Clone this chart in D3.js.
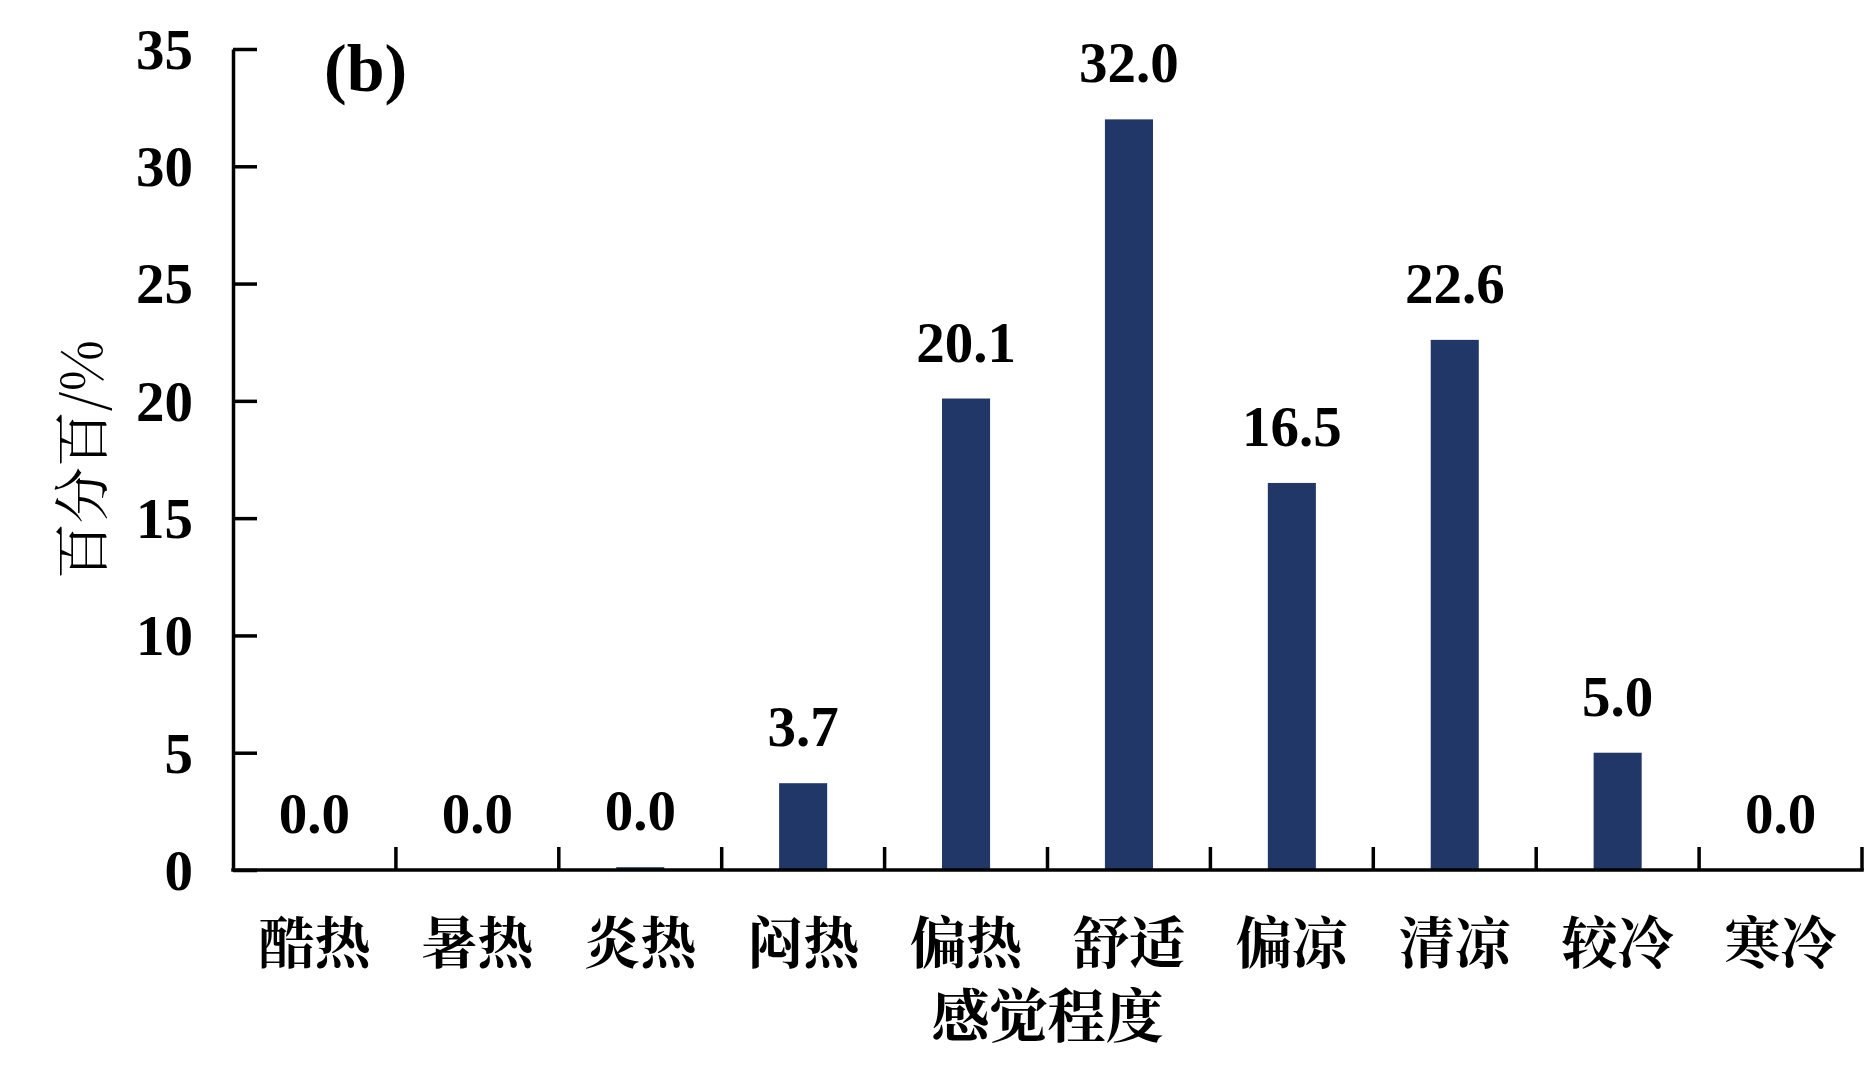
<!DOCTYPE html>
<html>
<head>
<meta charset="utf-8">
<script src="https://cdn.jsdelivr.net/npm/d3@7"></script>
<style>
  html, body { margin: 0; padding: 0; background: #fff; }
  svg { display: block; }
</style>
</head>
<body>
<svg id="chart" width="1876" height="1076"></svg>
<script>
const categories = ["酷热", "暑热", "炎热", "闷热", "偏热", "舒适", "偏凉", "清凉", "较冷", "寒冷"];
const values = [0.0, 0.0, 0.12, 3.7, 20.1, 32.0, 16.5, 22.6, 5.0, 0.0];
const valueLabels = ["0.0", "0.0", "0.0", "3.7", "20.1", "32.0", "16.5", "22.6", "5.0", "0.0"];
const yTicks = [0, 5, 10, 15, 20, 25, 30, 35];
const yTitle = "百分百/%";
const xTitle = "感觉程度";
const panelLabel = "(b)";

(function () {
const plotLeft = 233, plotRight = 1862, plotTop = 49, plotBottom = 870;
const barColor = "#213767";
const numFont = "'Liberation Serif', 'Times New Roman', serif";
const cjkFont = "'Noto Serif CJK SC', 'Noto Sans CJK SC', sans-serif";

const svg = d3.select("#chart");

const x = d3.scaleBand().domain(categories).range([plotLeft, plotRight]).paddingInner(0).paddingOuter(0);
const y = d3.scaleLinear().domain([0, 35]).range([plotBottom, plotTop]);

const barW = x.bandwidth() * 0.295;
const rows = categories.map((c, i) => ({c, v: values[i], l: valueLabels[i]}));

// bars
svg.append("g").selectAll("rect")
  .data(rows)
  .join("rect")
  .attr("x", d => x(d.c) + x.bandwidth() / 2 - barW / 2)
  .attr("width", barW)
  .attr("y", d => y(d.v))
  .attr("height", d => y(0) - y(d.v))
  .attr("fill", barColor);

// value labels
svg.append("g").selectAll("text")
  .data(rows)
  .join("text")
  .attr("x", d => x(d.c) + x.bandwidth() / 2)
  .attr("y", d => y(d.v) - 37)
  .attr("text-anchor", "middle")
  .attr("font-family", numFont)
  .attr("font-weight", "bold")
  .attr("font-size", 57)
  .attr("fill", "#000")
  .text(d => d.l);

// y axis
const yAxis = d3.axisLeft(y).tickValues(yTicks).tickSizeInner(-24).tickSizeOuter(0).tickPadding(40).tickFormat(d3.format("d"));
const gy = svg.append("g").attr("transform", `translate(${plotLeft},0)`).call(yAxis);
gy.select(".domain").attr("stroke", "#000").attr("stroke-width", 3.5);
gy.selectAll(".tick line").attr("stroke", "#000").attr("stroke-width", 3.5);
gy.selectAll(".tick text")
  .attr("font-family", numFont).attr("font-weight", "bold").attr("font-size", 57)
  .attr("fill", "#000").attr("dy", "0.34em");

// x axis (labels at band centers)
const xAxis = d3.axisBottom(x).tickSize(0).tickPadding(0);
const gx = svg.append("g").attr("transform", `translate(0,${plotBottom})`).call(xAxis);
gx.select(".domain").remove();
gx.selectAll(".tick text")
  .attr("y", 93).attr("dy", 0)
  .attr("font-family", cjkFont).attr("font-weight", "bold").attr("font-size", 56)
  .attr("fill", "#000");

// x axis line and boundary ticks
const boundaries = categories.map(c => x(c)).concat([x(categories[categories.length - 1]) + x.bandwidth()]);
svg.append("line")
  .attr("x1", plotLeft - 1.75).attr("x2", plotRight + 1.75)
  .attr("y1", y(0)).attr("y2", y(0))
  .attr("stroke", "#000").attr("stroke-width", 3.5);
svg.append("g").selectAll("line")
  .data(boundaries.slice(1))
  .join("line")
  .attr("x1", d => d).attr("x2", d => d)
  .attr("y1", y(0)).attr("y2", y(0) - 23)
  .attr("stroke", "#000").attr("stroke-width", 3.5);

// axis titles
svg.append("text")
  .attr("x", (plotLeft + plotRight) / 2).attr("y", 1037)
  .attr("text-anchor", "middle")
  .attr("font-family", cjkFont).attr("font-weight", "bold").attr("font-size", 58)
  .attr("fill", "#000")
  .text(xTitle);

svg.append("text")
  .attr("transform", `translate(78,${(plotTop + plotBottom) / 2}) rotate(-90)`)
  .attr("text-anchor", "middle")
  .attr("dominant-baseline", "central")
  .attr("font-family", cjkFont).attr("font-weight", "normal").attr("font-size", 56)
  .attr("fill", "#000")
  .text(yTitle);

// panel label
svg.append("text")
  .attr("x", 324).attr("y", 91)
  .attr("font-family", numFont).attr("font-weight", "bold").attr("font-size", 68)
  .attr("fill", "#000")
  .text(panelLabel);
})();
</script>
</body>
</html>
